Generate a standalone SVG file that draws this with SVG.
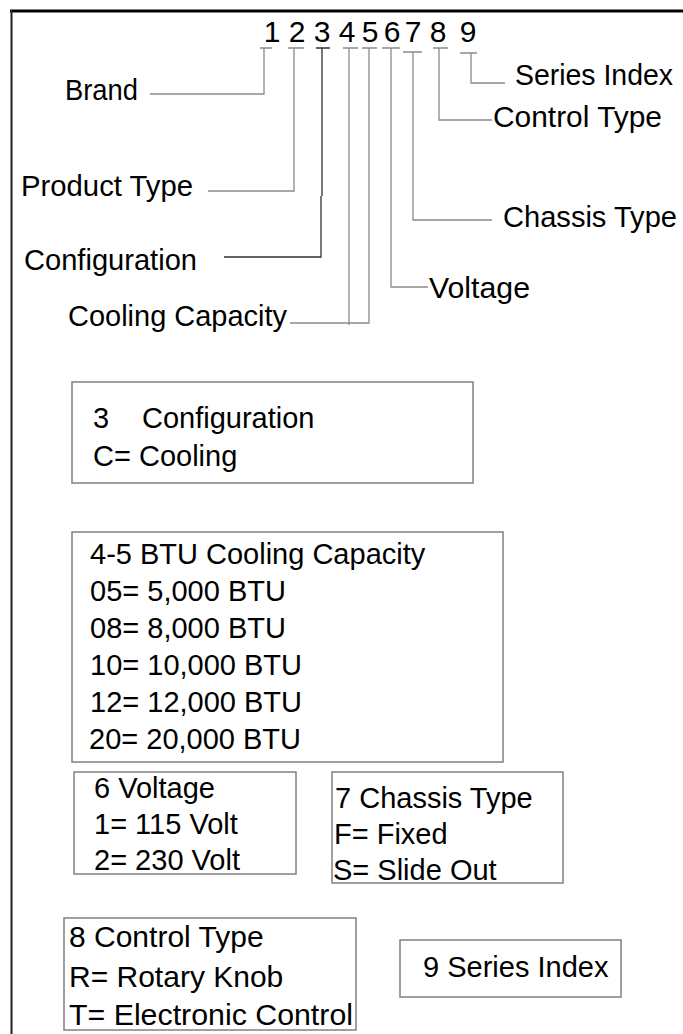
<svg xmlns="http://www.w3.org/2000/svg" width="683" height="1034" viewBox="0 0 683 1034">
<style>
text{font-family:"Liberation Sans",Arial,sans-serif;font-size:29px;fill:#000}
.d{font-size:30px}
.l{font-size:30px}
.c{fill:none;stroke:#8a8a8a;stroke-width:1.3}
.k{stroke:#333}
.b{fill:#fff;stroke:#808080;stroke-width:1.5}
</style>
<rect width="683" height="1034" fill="#fff"/>
<g id="frame">
<line x1="10" y1="11" x2="683" y2="11" stroke="#000" stroke-width="3"/>
<line x1="11.5" y1="10" x2="11.5" y2="1034" stroke="#222" stroke-width="2"/>
</g>
<g id="code">
<text class="d" text-anchor="middle"><tspan x="272" y="42">1</tspan><tspan x="297" y="42">2</tspan><tspan x="322" y="42">3</tspan><tspan x="347" y="42">4</tspan><tspan x="370" y="42">5</tspan><tspan x="392" y="42">6</tspan><tspan x="413" y="42">7</tspan><tspan x="438" y="42">8</tspan><tspan x="468" y="42">9</tspan></text>
</g>
<g id="connectors">
<path class="c" d="M260 48H272M264 48V94H150"/>
<path class="c" d="M288 48H304M294 48V191H208"/>
<path class="c k" d="M316 48H330M322 48V196M321 196V257H224"/>
<path class="c" d="M343 48H358M349 48V325"/>
<path class="c" d="M362 48H377M369 48V323H290"/>
<path class="c" d="M382 48H400M391 48V287H428"/>
<path class="c" d="M403 52H422M413 52V220H492"/>
<path class="c" d="M433 48H448M439 48V120H492"/>
<path class="c" d="M460 53H477M471 53V83H505"/>
</g>
<g id="labels">
<text x="65" y="100" textLength="73" lengthAdjust="spacingAndGlyphs">Brand</text>
<text x="515" y="85" textLength="158" lengthAdjust="spacingAndGlyphs">Series Index</text>
<text x="493" y="127" textLength="169" lengthAdjust="spacingAndGlyphs">Control Type</text>
<text x="21" y="196" textLength="172" lengthAdjust="spacingAndGlyphs">Product Type</text>
<text x="503" y="227" textLength="174" lengthAdjust="spacingAndGlyphs">Chassis Type</text>
<text x="24" y="270" textLength="173" lengthAdjust="spacingAndGlyphs">Configuration</text>
<text x="429" y="298" textLength="101" lengthAdjust="spacingAndGlyphs">Voltage</text>
<text x="68" y="326" textLength="219" lengthAdjust="spacingAndGlyphs">Cooling Capacity</text>
</g>
<g id="box-configuration">
<rect class="b" x="72" y="382" width="401" height="101"/>
<text><tspan x="93" y="428">3</tspan><tspan x="142" y="428">Configuration</tspan></text>
<text x="93" y="466">C= Cooling</text>
</g>
<g id="box-capacity">
<rect class="b" x="72" y="532" width="431" height="230"/>
<text x="90" y="564">4-5 BTU Cooling Capacity</text>
<text x="90" y="601">05= 5,000 BTU</text>
<text x="90" y="638">08= 8,000 BTU</text>
<text x="90" y="675">10= 10,000 BTU</text>
<text x="90" y="712">12= 12,000 BTU</text>
<text x="89" y="749">20= 20,000 BTU</text>
</g>
<g id="box-voltage">
<rect class="b" x="74" y="772" width="222" height="102"/>
<text x="94" y="798">6 Voltage</text>
<text x="94" y="834">1= 115 Volt</text>
<text x="94" y="870">2= 230 Volt</text>
</g>
<g id="box-chassis">
<rect class="b" x="332" y="772" width="231" height="111"/>
<text x="335" y="808">7 Chassis Type</text>
<text x="334" y="844">F= Fixed</text>
<text x="333" y="880">S= Slide Out</text>
</g>
<g id="box-control">
<rect class="b" x="64" y="918" width="292" height="112"/>
<text class="l" x="69" y="947">8 Control Type</text>
<text class="l" x="69" y="987">R= Rotary Knob</text>
<text class="l" x="69" y="1025" textLength="284" lengthAdjust="spacingAndGlyphs">T= Electronic Control</text>
</g>
<g id="box-series">
<rect class="b" x="400" y="940" width="221" height="57"/>
<text x="423" y="977">9 Series Index</text>
</g>
</svg>
